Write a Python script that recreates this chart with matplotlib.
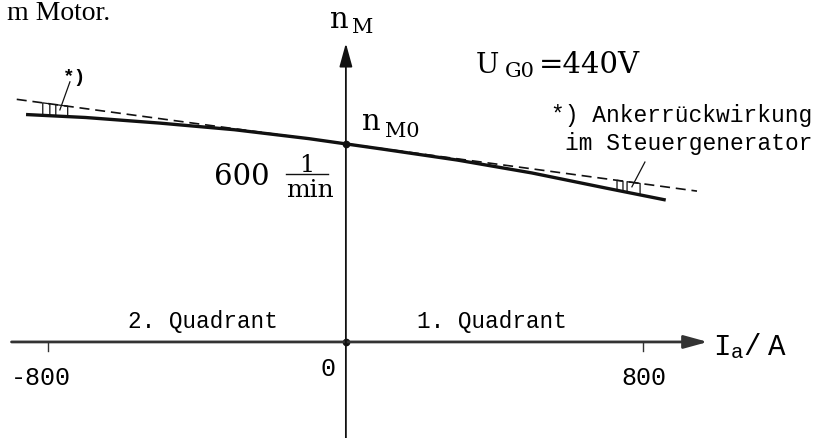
import numpy as np
import matplotlib.pyplot as plt

# speed curve n_M(I_a)
ia = [-860, -700, -500, -300, -100, 0, 100, 300, 500, 700, 860]
n_m = [689, 680, 663, 643, 616, 600, 584, 551, 512, 466, 430]

# dashed ideal line (without armature reaction)
ia_ideal = [-885, 944]
n_ideal = [735, 457]

n_m0 = 600
x_ticks = [-800, 800]
x_ticklabels = ['-800', '800']

# x positions of the little "armature reaction" marks (pairs)
marks = [(-815, -796), (-780, -748), (729, 745), (756, 791)]

serif = 'DejaVu Serif'
mono = 'Liberation Mono'

fig = plt.figure(figsize=(8.16, 4.39), dpi=100)
ax = fig.add_axes([0, 0, 1, 1])
ax.set_xlim(-930, 1264)
ax.set_ylim(-291, 1039)
ax.axis('off')

# axes with arrows
arr = '-|>,head_length=0.8,head_width=0.22'
ax.annotate('', xy=(973, 0), xytext=(-899, 0),
            arrowprops=dict(arrowstyle=arr, mutation_scale=18, lw=2.0,
                            color='#333333', shrinkA=0, shrinkB=0))
ax.annotate('', xy=(0, 905), xytext=(0, -291),
            arrowprops=dict(arrowstyle=arr, mutation_scale=18, lw=1.3,
                            color='#111111', shrinkA=0, shrinkB=0))
for xt in x_ticks:
    ax.plot([xt, xt], [0, -26], color='#333333', lw=1.0)

# curves
ax.plot(ia_ideal, n_ideal, color='#111111', lw=1.2, ls=(0, (6, 3.5)))
ax.plot(ia, n_m, color='#111111', lw=2.4, solid_capstyle='butt',
        solid_joinstyle='round')
ax.plot([0, 0], [0, n_m0], 'o', color='#111111', ms=4.5)

# marks between real and ideal curve
for x0, x1 in marks:
    xs = [x0, x0, x1, x1]
    ys = [np.interp(x0, ia, n_m), np.interp(x0, ia_ideal, n_ideal),
          np.interp(x1, ia_ideal, n_ideal), np.interp(x1, ia, n_m)]
    ax.plot(xs, ys, color='#111111', lw=0.9)

# pointer lines to the marks
ax.plot([-742, -769], [788, 703], color='#111111', lw=0.9)
ax.plot([804, 769], [545, 470], color='#111111', lw=0.9)
ax.text(-760, 792, '*)', fontsize=14, family=mono, weight='bold')

# labels
ax.text(-43, 954, 'n', fontsize=21, family=serif)
ax.text(16, 939, 'M', fontsize=15, family=serif)
ax.text(43, 645, 'n', fontsize=21, family=serif)
ax.text(105, 624, 'M0', fontsize=15, family=serif)

ax.text(350, 818, 'U', fontsize=20, family=serif)
ax.text(428, 806, 'G0', fontsize=15, family=serif)
ax.text(518, 818, '=440V', fontsize=21, family=serif)

ax.text(-204, 479, '600', fontsize=21, family=serif, ha='right')
ax.text(-105, 518, '1', fontsize=17, family=serif, ha='center')
ax.plot([-161, -48], [509, 509], color='#111111', lw=1.0)
ax.text(-97, 441, 'min', fontsize=18, family=serif, ha='center')

ax.text(1255, 670, '*) Ankerrückwirkung', fontsize=16.5, family=mono, ha='right')
ax.text(1255, 585, 'im Steuergenerator', fontsize=16.5, family=mono, ha='right')

ax.text(-586, 45, '2. Quadrant', fontsize=16.3, family=mono)
ax.text(191, 45, '1. Quadrant', fontsize=16.3, family=mono)

for xt, lab in zip(x_ticks, x_ticklabels):
    ax.text(xt - (20 if xt < 0 else 0), -70, lab, fontsize=18, family=mono,
            ha='center', va='top')
ax.text(-27, -42, '0', fontsize=18, family=mono, ha='right', va='top')

ax.text(987, -36, 'I', fontsize=21, family=mono)
ax.text(1036, -45, 'a', fontsize=15, family=mono)
ax.text(1068, -36, '/', fontsize=21, family=mono)
ax.text(1135, -36, 'A', fontsize=21, family=mono)

# text from the page above (cut in the original)
fig.text(0.008, 0.955, 'm Motor.', fontsize=20, family='Liberation Serif')

fig.savefig('out.png', dpi=100)
